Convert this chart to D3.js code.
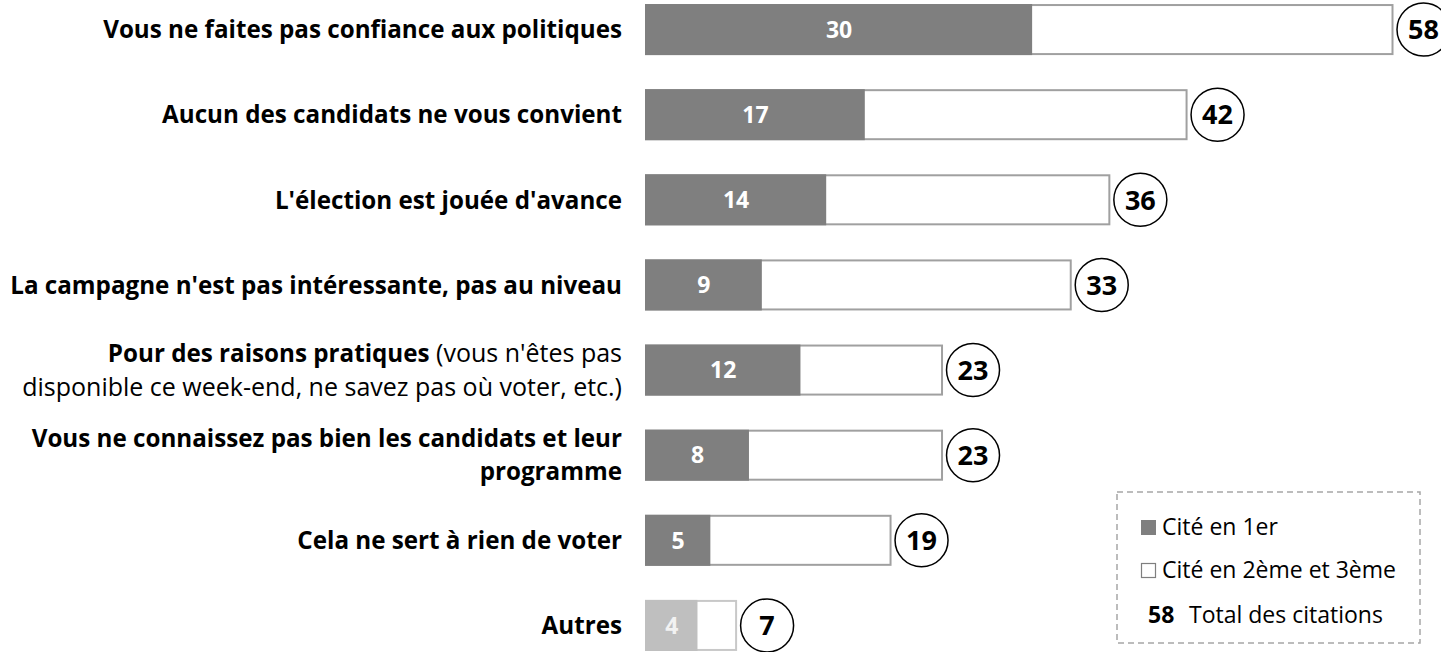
<!DOCTYPE html>
<html>
<head>
<meta charset="utf-8">
<script src="https://cdn.jsdelivr.net/npm/d3@7"></script>
<style>
  body { margin: 0; background: #fff; }
  svg { display: block; font-family: "Open Sans", sans-serif; }
</style>
</head>
<body>
<svg id="canvas" width="1441" height="652"></svg>
<script>
// raisons de l'abstention
let labels = [
  ['Vous ne faites pas confiance aux politiques'],
  ['Aucun des candidats ne vous convient'],
  ["L'élection est jouée d'avance"],
  ["La campagne n'est pas intéressante, pas au niveau"],
  ['Pour des raisons pratiques|| (vous n\'êtes pas', 'disponible ce week-end, ne savez pas où voter, etc.)'],
  ['Vous ne connaissez pas bien les candidats et leur', 'programme'],
  ['Cela ne sert à rien de voter'],
  ['Autres']
];
let firstCited = [30, 17, 14, 9, 12, 8, 5, 4];
let totalCited = [58, 42, 36, 33, 23, 23, 19, 7];
let legendLabels = ['Cité en 1er', 'Cité en 2ème et 3ème', 'Total des citations'];

let rows = labels.map((l, i) => ({ i: i, lines: l, first: firstCited[i], total: totalCited[i], other: i === labels.length - 1 }));

let canvas = d3.select('#canvas');

let x = d3.scaleLinear().domain([0, 58]).range([646, 1392.5]);
let y = d3.scaleBand().domain(d3.range(rows.length)).range([-13, 668]).paddingInner(0.424).paddingOuter(0.212);

let bw = y.bandwidth();

let g = canvas.selectAll('g.row')
  .data(rows)
  .enter()
  .append('g')
  .attr('class', 'row');

// outline of the total
g.append('rect')
  .attr('x', x(0))
  .attr('y', d => y(d.i))
  .attr('width', d => x(d.total) - x(0))
  .attr('height', bw)
  .attr('fill', '#fff')
  .attr('stroke', d => d.other ? '#c8c8c8' : '#a0a0a0')
  .attr('stroke-width', 2);

// first cited part
g.append('rect')
  .attr('x', x(0) - 1)
  .attr('y', d => y(d.i) - 1)
  .attr('width', d => x(d.first) - x(0) + 1)
  .attr('height', bw + 2)
  .attr('fill', d => d.other ? '#bfbfbf' : '#7f7f7f');

g.append('text')
  .attr('x', d => (x(0) + x(d.first)) / 2)
  .attr('y', d => y(d.i) + bw / 2)
  .attr('dy', '0.36em')
  .attr('text-anchor', 'middle')
  .attr('font-weight', 'bold')
  .attr('font-size', 23)
  .attr('fill', d => d.other ? '#f2f2f2' : '#fff')
  .text(d => d.first);

// total circles
g.append('circle')
  .attr('cx', d => x(d.total) + 31)
  .attr('cy', d => y(d.i) + bw / 2)
  .attr('r', 26.5)
  .attr('fill', '#fff')
  .attr('stroke', '#000')
  .attr('stroke-width', 1.5);

g.append('text')
  .attr('x', d => x(d.total) + 31)
  .attr('y', d => y(d.i) + bw / 2)
  .attr('dy', '0.36em')
  .attr('text-anchor', 'middle')
  .attr('font-weight', 'bold')
  .attr('font-size', 27)
  .attr('fill', '#000')
  .text(d => d.total);

// category labels
g.each(function(d) {
  let t = d3.select(this).append('text')
    .attr('text-anchor', 'end')
    .attr('font-size', 24.2)
    .attr('fill', '#000');
  let n = d.lines.length;
  d.lines.forEach((line, k) => {
    let ly = y(d.i) + bw / 2 + (k - (n - 1) / 2) * 33;
    let parts = line.split('||');
    let ts = t.append('tspan').attr('x', 622).attr('y', ly).attr('dy', '0.36em');
    if (d.i === 4) {
      if (parts.length > 1) {
        ts.attr('font-weight', 'bold').text(parts[0]);
        t.append('tspan').attr('font-weight', 'normal').attr('font-size', 25).text(parts[1]);
      } else {
        ts.attr('font-weight', 'normal').attr('font-size', 25).text(line);
      }
    } else {
      ts.attr('font-weight', 'bold').text(line);
    }
  });
});

// legend
let lg = canvas.append('g').attr('class', 'legend');
lg.append('rect')
  .attr('x', 1117).attr('y', 492)
  .attr('width', 303).attr('height', 151)
  .attr('fill', 'none')
  .attr('stroke', '#a6a6a6')
  .attr('stroke-width', 1.5)
  .attr('stroke-dasharray', '6,4');

lg.append('rect')
  .attr('x', 1141).attr('y', 520).attr('width', 15).attr('height', 15)
  .attr('fill', '#7f7f7f');
lg.append('rect')
  .attr('x', 1141.5).attr('y', 563.5).attr('width', 14).attr('height', 14)
  .attr('fill', '#fff').attr('stroke', '#7f7f7f').attr('stroke-width', 1.2);

lg.append('text').attr('x', 1162).attr('y', 527).attr('dy', '0.36em')
  .attr('font-size', 23).text(legendLabels[0]);
lg.append('text').attr('x', 1162).attr('y', 570).attr('dy', '0.36em')
  .attr('font-size', 23).text(legendLabels[1]);
lg.append('text').attr('x', 1148).attr('y', 615).attr('dy', '0.36em')
  .attr('font-size', 23).attr('font-weight', 'bold').text(totalCited[0]);
lg.append('text').attr('x', 1189).attr('y', 615).attr('dy', '0.36em')
  .attr('font-size', 23).text(legendLabels[2]);
</script>
</body>
</html>
